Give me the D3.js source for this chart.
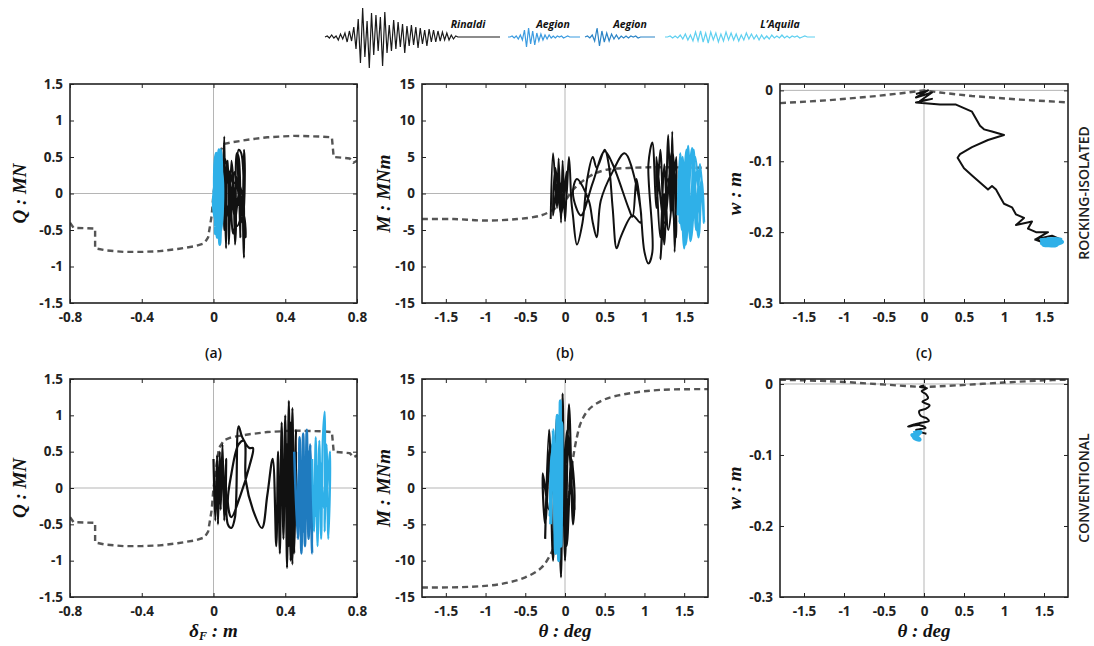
<!DOCTYPE html>
<html>
<head>
<meta charset="utf-8">
<script src="https://cdn.jsdelivr.net/npm/d3@7"></script>
<style>
  body { margin: 0; background: #fff; }
  svg { display: block; }
  .tick text { font-family: "Open Sans", sans-serif; font-weight: 700; font-size: 13.5px; fill: #222; }
</style>
</head>
<body>
<script>
/* ---------- data ---------- */

// legend waveforms (amplitude samples)
const rinaldiWave = [0, 1, -1, 2, -1, 1, -3, 3, -2, 4, -5, 6, -4, 10, -12, 18, -26, 29, -20, 16, -31, 24, -18, 22, -14, 20, -29, 25, -16, 12, -14, 17, -12, 15, -10, 13, -16, 11, -9, 12, -8, 10, -11, 9, -7, 7, -9, 8, -5, 7, -5, 6, -4, 5, -3, 4, -3, 2, -2, 1, 0, 0, 0, 0, 0, 0, 0, 0, 0, 0, 0, 0, 0, 0, 0, 0, 0, 0, 0, 0];
const aegion1Wave = [0, 0, 1, -1, 1, -2, 2, -3, 7, -10, 9, -7, 6, -8, 4, -4, 3, -3, 2, -2, 2, -1, 1, -1, 1, 0, 1, -1, 0, 1, 0, 0, 0, 0, 0, 0];
const aegion2Wave = [0, 1, -1, 2, -4, 9, -9, 6, -5, 4, -4, 3, -2, 2, -2, 1, -1, 1, -1, 1, 0, 1, -1, 0, 0, 0, 0, 0, 0, 0];
const laquilaWave = [0, 0, 1, -1, 1, -1, 2, -2, 3, -3, 2, -4, 5, -4, 6, -5, 4, -6, 5, -3, 4, -5, 3, -4, 5, -3, 4, -3, 3, -4, 2, -3, 4, -2, 3, -2, 2, -3, 2, -2, 1, -2, 2, -1, 1, -1, 2, -1, 1, -1, 1, 0, 1, -1, 0, 1, 0, 0, 0, 0];
const legendNames = ["Rinaldi", "Aegion", "Aegion", "L\u2019Aquila"];

// tick values
const deltaTicks = [-0.8, -0.4, 0, 0.4, 0.8];
const qTicks = [-1.5, -1, -0.5, 0, 0.5, 1, 1.5];
const thetaTicks = [-1.5, -1, -0.5, 0, 0.5, 1, 1.5];
const mTicks = [-15, -10, -5, 0, 5, 10, 15];
const wTicks = [-0.3, -0.2, -0.1, 0];

// (a) Q - deltaF, rocking-isolated
const aTopCapacity = [[-0.8, -0.4], [-0.78, -0.47], [-0.66, -0.48], [-0.66, -0.75], [-0.6, -0.78], [-0.5, -0.8], [-0.4, -0.8], [-0.3, -0.79], [-0.2, -0.76], [-0.1, -0.72], [-0.05, -0.68], [-0.03, -0.6], [-0.02, -0.45], [-0.01, -0.3], [0.0, 0.0], [0.03, 0.55], [0.06, 0.68], [0.1, 0.7], [0.2, 0.74], [0.3, 0.77], [0.45, 0.79], [0.6, 0.78], [0.66, 0.77], [0.67, 0.5], [0.76, 0.48], [0.78, 0.42], [0.8, 0.45]];
const aTopRinaldi = [[0.05, 0.1], [0.06, 0.78], [0.065, -0.3], [0.07, -0.75], [0.075, 0.4], [0.08, 0.45], [0.085, -0.7], [0.09, -0.4], [0.1, 0.45], [0.11, 0.2], [0.12, -0.7], [0.125, -0.5], [0.13, 0.55], [0.14, 0.5], [0.15, -0.6], [0.145, -0.2], [0.14, 0.6], [0.155, 0.55], [0.17, -0.88], [0.165, -0.5], [0.17, 0.6], [0.175, 0.3], [0.16, -0.4], [0.12, 0.3], [0.1, -0.2], [0.11, -0.55], [0.15, 0.1], [0.18, -0.6], [0.17, -0.3], [0.13, -0.1], [0.09, 0.3], [0.07, 0.1], [0.06, -0.5], [0.08, -0.2], [0.12, 0.15], [0.16, -0.2], [0.13, -0.45], [0.1, 0.0], [0.08, 0.35], [0.06, 0.5]];
const aTopOther = [[0.01, -0.1], [0.02, 0.5], [0.01, -0.55], [0.03, 0.6], [0.02, -0.6], [0.04, 0.55], [0.03, -0.5], [0.045, 0.45], [0.035, -0.7], [0.02, 0.3], [0.005, -0.3], [0.015, 0.4], [0.025, -0.45], [0.035, 0.5], [0.045, -0.3], [0.04, 0.6], [0.01, 0.2], [0.0, -0.2], [0.02, -0.4], [0.03, 0.3], [0.015, 0.55], [0.005, 0.1], [0.025, -0.6], [0.04, -0.5], [0.05, 0.2], [0.03, 0.45], [0.01, -0.45]];

// (b) M - theta, rocking-isolated
const bTopCapacity = [[-1.8, -3.5], [-1.4, -3.5], [-1.0, -3.7], [-0.6, -3.5], [-0.3, -3.0], [-0.15, -2.2], [0.0, -1.0], [0.1, 0.5], [0.3, 2.3], [0.5, 3.2], [0.8, 3.5], [1.2, 3.6], [1.8, 3.5]];
const bTopRinaldi = [[-0.18, -3.5], [-0.15, 5.5], [-0.1, -2], [-0.08, 4.8], [-0.05, -4], [-0.03, 4.5], [0, -3.8], [0.02, 3], [-0.05, -3], [-0.12, 3.5], [-0.15, -3], [-0.08, 2], [0, -2], [0.05, 5], [0.08, -1], [0.1, -3], [0.15, -7], [0.22, -4], [0.28, 2], [0.35, 5], [0.4, 3.5], [0.5, 6], [0.55, 4], [0.6, -2], [0.65, -7.5], [0.7, -6], [0.85, -3], [0.95, -4], [0.9, 1], [0.75, 5.5], [0.6, 3], [0.45, -1], [0.4, -6], [0.35, -4], [0.3, -1], [0.15, 2], [0.1, 0], [0.2, -3], [0.35, 1.5], [0.5, 5.8], [0.6, 4], [0.8, -2], [0.85, -3.2], [0.9, 2], [0.95, -2], [1.0, -8], [1.05, -9.6], [1.1, -8], [1.05, 4], [1.1, 7], [1.15, -2], [1.2, 6], [1.25, -7], [1.3, 8], [1.33, -3], [1.35, 8.5], [1.38, -8], [1.4, 5], [1.3, -5], [1.25, 4], [1.2, -6], [1.15, 5], [1.25, -4], [1.35, 6], [1.4, -6], [1.3, 2], [1.2, -9], [1.25, 0]];
const bTopOther = [[1.42, -3], [1.45, 5.5], [1.5, -7.5], [1.55, 6.5], [1.58, -6], [1.62, 6], [1.65, -5], [1.7, 4], [1.75, -4], [1.72, 2], [1.68, -6], [1.6, 6.2], [1.52, -7], [1.48, 5], [1.44, -4], [1.5, 3], [1.56, -5], [1.64, 5], [1.7, -3], [1.66, 3], [1.58, -6.5], [1.53, 6], [1.47, -5], [1.43, 2]];

// (c) w - theta, rocking-isolated
const cTopCapacity = [[-1.8, -0.018], [-1.2, -0.014], [-0.6, -0.008], [-0.2, -0.003], [0.0, 0.0], [0.2, -0.003], [0.6, -0.008], [1.2, -0.013], [1.8, -0.017]];
const cTopRinaldi = [[-0.1, -0.005], [0.05, 0.0], [-0.1, -0.01], [0.1, -0.003], [-0.05, -0.015], [0.1, -0.012], [-0.1, -0.017], [0.2, -0.02], [0.4, -0.02], [0.5, -0.025], [0.6, -0.03], [0.65, -0.04], [0.7, -0.05], [0.75, -0.055], [0.85, -0.058], [1.0, -0.063], [0.8, -0.07], [0.6, -0.08], [0.45, -0.09], [0.42, -0.095], [0.5, -0.11], [0.6, -0.12], [0.7, -0.13], [0.8, -0.14], [0.85, -0.135], [0.9, -0.14], [0.95, -0.15], [1.0, -0.16], [1.1, -0.165], [1.15, -0.175], [1.25, -0.18], [1.15, -0.19], [1.35, -0.185], [1.3, -0.195], [1.4, -0.2], [1.55, -0.2], [1.4, -0.21], [1.6, -0.205], [1.7, -0.21], [1.5, -0.215], [1.38, -0.21]];
const cTopOther = [[1.45, -0.212], [1.7, -0.21], [1.5, -0.218], [1.72, -0.214], [1.48, -0.216], [1.65, -0.218], [1.55, -0.21], [1.7, -0.216]];

// (a) Q - deltaF, conventional
const aBotCapacity = [[-0.8, -0.4], [-0.78, -0.47], [-0.66, -0.48], [-0.66, -0.75], [-0.6, -0.78], [-0.5, -0.8], [-0.4, -0.8], [-0.3, -0.79], [-0.2, -0.76], [-0.1, -0.72], [-0.05, -0.68], [-0.03, -0.6], [-0.02, -0.45], [-0.01, -0.3], [0.0, 0.0], [0.03, 0.55], [0.06, 0.66], [0.1, 0.7], [0.2, 0.74], [0.3, 0.77], [0.45, 0.79], [0.6, 0.78], [0.66, 0.77], [0.67, 0.5], [0.76, 0.48], [0.78, 0.42], [0.8, 0.45]];
const aBotRinaldi = [[0, 0.4], [0.01, -0.45], [0.02, 0.45], [0.025, -0.5], [0.035, 0.5], [0.04, -0.3], [0.05, 0.6], [0.06, -0.45], [0.07, 0.4], [0.08, -0.5], [0.1, -0.55], [0.12, -0.4], [0.14, 0.85], [0.16, 0.7], [0.2, 0.55], [0.22, 0.55], [0.2, 0.3], [0.15, -0.1], [0.1, -0.4], [0.08, -0.2], [0.1, 0.2], [0.14, 0.6], [0.17, 0.65], [0.18, 0.1], [0.22, -0.3], [0.27, -0.55], [0.3, -0.1], [0.33, 0.4], [0.35, -0.8], [0.36, 0.5], [0.37, -0.9], [0.38, 0.9], [0.39, -0.7], [0.4, 1.0], [0.41, -1.1], [0.42, 1.2], [0.43, -1.0], [0.44, 1.1], [0.45, -0.9], [0.46, 0.8], [0.44, -1.05], [0.43, 0.9], [0.42, -0.8], [0.41, 0.6], [0.45, -0.6], [0.46, 0.5]];
const aBotAegion = [[0.45, 0.5], [0.47, -0.7], [0.48, 0.7], [0.49, -0.9], [0.5, 0.75], [0.51, -0.8], [0.52, 0.8], [0.53, -0.7], [0.54, 0.6], [0.55, -0.9], [0.53, 0.5], [0.5, -0.6], [0.48, 0.4], [0.47, -0.4], [0.5, 0.3], [0.52, -0.3]];
const aBotLaquila = [[0.55, 0.4], [0.56, -0.6], [0.57, 0.7], [0.58, -0.8], [0.59, 0.65], [0.6, -0.7], [0.61, 0.7], [0.62, 1.05], [0.62, -0.6], [0.63, 0.6], [0.64, -0.7], [0.65, 0.5], [0.62, -0.3], [0.59, 0.4], [0.57, -0.4]];

// (b) M - theta, conventional
const bBotCapacity = [[-1.8, -13.7], [-1.2, -13.6], [-0.8, -13.2], [-0.5, -12.3], [-0.3, -11.0], [-0.2, -9.5], [-0.1, -7.0], [0.0, -4.0], [0.1, 4.0], [0.15, 7.0], [0.2, 9.0], [0.3, 10.8], [0.5, 12.2], [0.8, 13.0], [1.2, 13.5], [1.8, 13.6]];
const bBotRinaldi = [[-0.25, -7], [-0.2, 8], [-0.15, -10], [-0.1, 10], [-0.05, -12.3], [-0.03, 13], [0, -10], [0.05, 11.5], [0.1, -5], [0.12, -1], [0.08, 4], [0.02, -8], [-0.05, 9], [-0.1, -9], [-0.18, 6], [-0.25, -5], [-0.28, 2], [-0.2, -3], [-0.12, 7], [-0.05, -6], [0.03, 8], [0.1, -4], [0.05, 6], [0, -5], [0.1, 2], [0.12, -3]];
const bBotOther = [[-0.18, -5], [-0.15, 8], [-0.12, -9], [-0.1, 10], [-0.08, -10], [-0.06, 12], [-0.05, -8], [-0.04, 9], [-0.1, -6], [-0.16, 5], [-0.19, -4], [-0.14, 6], [-0.09, -9], [-0.06, 7], [-0.12, -3]];

// (c) w - theta, conventional
const cBotCapacity = [[-1.8, 0.006], [-1.2, 0.004], [-0.6, 0.0], [-0.2, -0.003], [0.0, -0.004], [0.4, -0.002], [1.0, 0.002], [1.5, 0.005], [1.8, 0.006]];
const cBotRinaldi = [[0, -0.002], [-0.05, -0.004], [0.04, -0.006], [-0.03, -0.01], [0.03, -0.015], [0.05, -0.02], [-0.02, -0.025], [0.07, -0.03], [0.02, -0.035], [-0.06, -0.038], [-0.04, -0.045], [0.03, -0.048], [0.06, -0.052], [-0.05, -0.055], [-0.12, -0.057], [-0.2, -0.06], [-0.05, -0.058], [0.02, -0.062], [-0.1, -0.065], [0.03, -0.07]];
const cBotOther = [[-0.13, -0.07], [-0.05, -0.068], [-0.12, -0.075], [-0.06, -0.078], [-0.14, -0.072], [-0.07, -0.074]];

/* ---------- drawing ---------- */

const svg = d3.select("body").append("svg").attr("width", 1094).attr("height", 646);

const black = "#111";
const lightBlue = "#2fb0e8";
const midBlue = "#1f7bbf";
const dashGrey = "#555";

// legend waveforms
const legendY = d3.scaleLinear().domain([-30, 30]).range([67, 7]);
const legendItems = [
  { wave: rinaldiWave, x0: 325, x1: 500, color: "#1a1a1a", label: legendNames[0], lx: 468 },
  { wave: aegion1Wave, x0: 508, x1: 580, color: "#3b9be0", label: legendNames[1], lx: 553 },
  { wave: aegion2Wave, x0: 585, x1: 655, color: "#2b84c6", label: legendNames[2], lx: 630 },
  { wave: laquilaWave, x0: 665, x1: 815, color: "#5fd0f0", label: legendNames[3], lx: 780 },
];
legendItems.forEach((item) => {
  const lx = d3.scaleLinear().domain([0, item.wave.length - 1]).range([item.x0, item.x1]);
  svg.append("path")
    .attr("d", d3.line().x((d, i) => lx(i)).y((d) => legendY(d))(item.wave))
    .attr("fill", "none")
    .attr("stroke", item.color)
    .attr("stroke-width", 1.2);
  svg.append("text")
    .attr("x", item.lx)
    .attr("y", 28)
    .attr("text-anchor", "middle")
    .style("font-family", "'Open Sans', sans-serif")
    .style("font-weight", 700)
    .style("font-style", "italic")
    .style("font-size", "10.5px")
    .style("fill", "#111")
    .text(item.label);
});

let clipId = 0;
const drawPanel = (p) => {
  const x = d3.scaleLinear().domain(p.xDomain).range([p.left, p.right]);
  const y = d3.scaleLinear().domain(p.yDomain).range([p.bottom, p.top]);
  const g = svg.append("g");

  const id = "clip" + clipId++;
  g.append("clipPath").attr("id", id)
    .append("rect")
    .attr("x", p.left).attr("y", p.top)
    .attr("width", p.right - p.left).attr("height", p.bottom - p.top);

  // zero lines
  g.append("line")
    .attr("x1", x(0)).attr("x2", x(0)).attr("y1", p.top).attr("y2", p.bottom)
    .attr("stroke", "#b5b5b5").attr("stroke-width", 1);
  g.append("line")
    .attr("x1", p.left).attr("x2", p.right).attr("y1", y(0)).attr("y2", y(0))
    .attr("stroke", "#b5b5b5").attr("stroke-width", 1);

  const plot = g.append("g").attr("clip-path", `url(#${id})`);
  p.series.forEach((s) => {
    const line = d3.line()
      .x((d) => x(d[0]))
      .y((d) => y(d[1]))
      .curve(s.smooth ? d3.curveCatmullRom.alpha(0.5) : d3.curveLinear);
    plot.append("path")
      .attr("d", line(s.data))
      .attr("fill", "none")
      .attr("stroke", s.color)
      .attr("stroke-width", s.width)
      .attr("stroke-linejoin", "round")
      .attr("stroke-dasharray", s.dash || null);
  });

  const fmt = (d) => String(d);
  const bottomAxis = g.append("g")
    .attr("transform", `translate(0,${p.bottom})`)
    .call(d3.axisBottom(x).tickValues(p.xTicks).tickSizeInner(-4).tickSizeOuter(0).tickPadding(9).tickFormat(fmt));
  const topAxis = g.append("g")
    .attr("transform", `translate(0,${p.top})`)
    .call(d3.axisTop(x).tickValues(p.xTicks).tickSizeInner(-4).tickSizeOuter(0).tickFormat(""));
  const leftAxis = g.append("g")
    .attr("transform", `translate(${p.left},0)`)
    .call(d3.axisLeft(y).tickValues(p.yTicks).tickSizeInner(-4).tickSizeOuter(0).tickPadding(7).tickFormat(fmt));
  const rightAxis = g.append("g")
    .attr("transform", `translate(${p.right},0)`)
    .call(d3.axisRight(y).tickValues(p.yTicks).tickSizeInner(-4).tickSizeOuter(0).tickFormat(""));
  [bottomAxis, topAxis, leftAxis, rightAxis].forEach((a) => {
    a.select(".domain").remove();
    a.selectAll(".tick line").attr("stroke", "#222").attr("stroke-width", 1);
  });

  // frame
  g.append("rect")
    .attr("x", p.left).attr("y", p.top)
    .attr("width", p.right - p.left).attr("height", p.bottom - p.top)
    .attr("fill", "none").attr("stroke", "#222").attr("stroke-width", 1.6);

  // y label
  g.append("text")
    .attr("transform", `translate(${p.ylabelX},${(p.top + p.bottom) / 2}) rotate(-90)`)
    .attr("text-anchor", "middle")
    .attr("dy", "0.35em")
    .style("font-family", "'Liberation Serif', serif")
    .style("font-weight", 700)
    .style("font-style", "italic")
    .style("font-size", "19px")
    .style("fill", "#111")
    .text(p.ylabel);

  // x label
  if (p.xlabel) {
    const t = g.append("text")
      .attr("x", (p.left + p.right) / 2)
      .attr("y", 637)
      .attr("text-anchor", "middle")
      .style("font-family", "'Liberation Serif', serif")
      .style("font-weight", 700)
      .style("font-style", "italic")
      .style("font-size", "19px")
      .style("fill", "#111");
    t.append("tspan").text(p.xlabel[0]);
    if (p.xlabel[1]) {
      t.append("tspan").attr("dy", 3).style("font-size", "12px").text(p.xlabel[1]);
      t.append("tspan").attr("dy", -3).text(p.xlabel[2]);
    } else {
      t.append("tspan").text(p.xlabel[2]);
    }
  }

  if (p.letter) {
    g.append("text")
      .attr("x", x(0))
      .attr("y", 358)
      .attr("text-anchor", "middle")
      .style("font-family", "'Open Sans', sans-serif")
      .style("font-weight", 600)
      .style("font-size", "14px")
      .style("fill", "#111")
      .text(p.letter);
  }
};

const topRow = { top: 84, bottom: 303 };
const botRow = { top: 379, bottom: 597 };
const colA = { left: 70, right: 357 };
const colB = { left: 422, right: 708 };
const colC = { left: 780, right: 1068 };

drawPanel({
  ...colA, ...topRow, xDomain: [-0.8, 0.8], yDomain: [-1.5, 1.5], xTicks: deltaTicks, yTicks: qTicks,
  ylabel: "Q : MN", ylabelX: 19, letter: "(a)",
  series: [
    { data: aTopCapacity, color: dashGrey, width: 2.4, dash: "6,4" },
    { data: aTopRinaldi, color: black, width: 2, smooth: true },
    { data: aTopOther, color: lightBlue, width: 3, smooth: true },
  ],
});
drawPanel({
  ...colB, ...topRow, xDomain: [-1.8, 1.8], yDomain: [-15, 15], xTicks: thetaTicks, yTicks: mTicks,
  ylabel: "M : MNm", ylabelX: 383, letter: "(b)",
  series: [
    { data: bTopCapacity, color: dashGrey, width: 2.4, dash: "6,4", smooth: true },
    { data: bTopRinaldi, color: black, width: 2, smooth: true },
    { data: bTopOther, color: lightBlue, width: 2.5, smooth: true },
  ],
});
drawPanel({
  ...colC, ...topRow, xDomain: [-1.8, 1.8], yDomain: [-0.3, 0.009], xTicks: thetaTicks, yTicks: wTicks,
  ylabel: "w : m", ylabelX: 734, letter: "(c)",
  series: [
    { data: cTopCapacity, color: dashGrey, width: 2.4, dash: "6,4" },
    { data: cTopRinaldi, color: black, width: 2 },
    { data: cTopOther, color: lightBlue, width: 5, smooth: true },
  ],
});
drawPanel({
  ...colA, ...botRow, xDomain: [-0.8, 0.8], yDomain: [-1.5, 1.5], xTicks: deltaTicks, yTicks: qTicks,
  ylabel: "Q : MN", ylabelX: 19, xlabel: ["\u03b4", "F", " : m"],
  series: [
    { data: aBotCapacity, color: dashGrey, width: 2.4, dash: "6,4" },
    { data: aBotRinaldi, color: black, width: 2.2, smooth: true },
    { data: aBotAegion, color: midBlue, width: 2.5, smooth: true },
    { data: aBotLaquila, color: lightBlue, width: 2.2, smooth: true },
  ],
});
drawPanel({
  ...colB, ...botRow, xDomain: [-1.8, 1.8], yDomain: [-15, 15], xTicks: thetaTicks, yTicks: mTicks,
  ylabel: "M : MNm", ylabelX: 383, xlabel: ["\u03b8", null, " : deg"],
  series: [
    { data: bBotCapacity, color: dashGrey, width: 2.4, dash: "6,4", smooth: true },
    { data: bBotRinaldi, color: black, width: 2.2, smooth: true },
    { data: bBotOther, color: lightBlue, width: 3, smooth: true },
  ],
});
drawPanel({
  ...colC, ...botRow, xDomain: [-1.8, 1.8], yDomain: [-0.3, 0.007], xTicks: thetaTicks, yTicks: wTicks,
  ylabel: "w : m", ylabelX: 734, xlabel: ["\u03b8", null, " : deg"],
  series: [
    { data: cBotCapacity, color: dashGrey, width: 2.4, dash: "6,4", smooth: true },
    { data: cBotRinaldi, color: black, width: 2, smooth: true },
    { data: cBotOther, color: lightBlue, width: 5, smooth: true },
  ],
});

// row labels
[["ROCKING-ISOLATED", 193], ["CONVENTIONAL", 488]].forEach(([label, cy]) => {
  svg.append("text")
    .attr("transform", `translate(1084,${cy}) rotate(-90)`)
    .attr("text-anchor", "middle")
    .attr("dy", "0.35em")
    .style("font-family", "'Open Sans', sans-serif")
    .style("font-weight", 600)
    .style("font-size", "14px")
    .style("fill", "#222")
    .text(label);
});
</script>
</body>
</html>
